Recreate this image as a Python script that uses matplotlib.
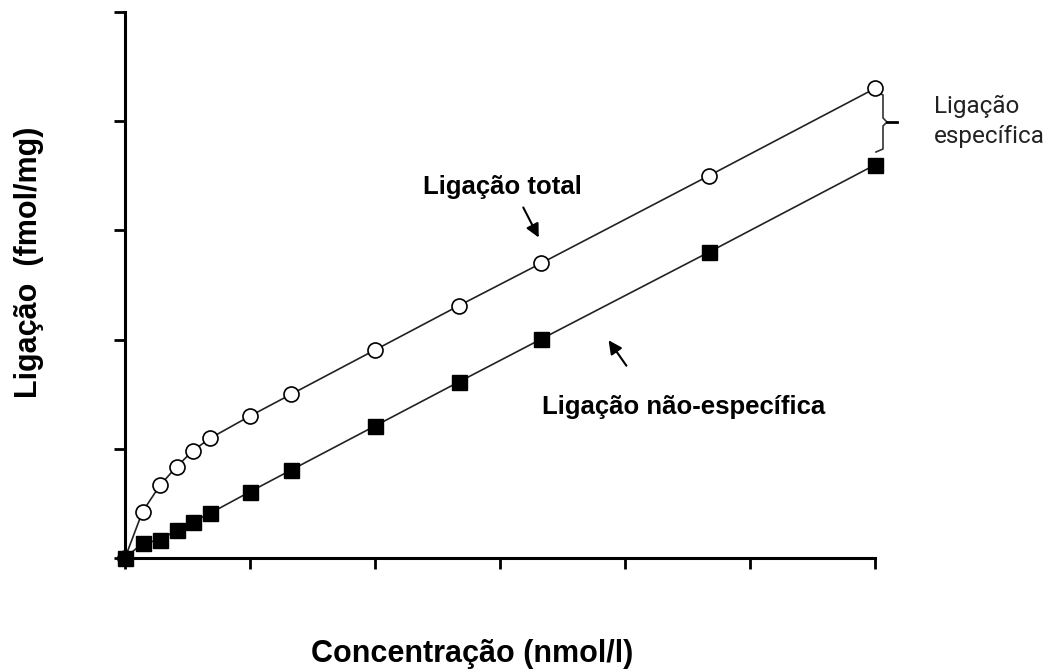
import matplotlib
matplotlib.use("Agg")
import matplotlib.pyplot as plt

conc = [0, 0.14, 0.28, 0.413, 0.544, 0.68, 1.0, 1.33, 2.0, 2.67, 3.33, 4.67, 6.0]
total = [0, 0.424, 0.666, 0.836, 0.983, 1.096, 1.30, 1.50, 1.905, 2.31, 2.70, 3.50, 4.30]
nonspecific = [0, 0.135, 0.165, 0.256, 0.332, 0.409, 0.607, 0.806, 1.209, 1.612, 2.005, 2.80, 3.60]

plt.rcParams['font.family'] = ['Liberation Sans', 'DejaVu Sans']

W, H = 1053, 672
fig = plt.figure(figsize=(W / 100, H / 100), dpi=100)
ax = fig.add_axes([125 / W, 1 - 558 / H, 750 / W, 546 / H])

ax.plot(conc, total, '-', color='#222222', lw=1.2, marker='o', ms=10.8,
        mfc='white', mec='black', mew=1.2, clip_on=False, zorder=3)
ax.plot(conc, nonspecific, '-', color='#222222', lw=1.2, marker='s', ms=10.8,
        mfc='black', mec='black', clip_on=False, zorder=4)

ax.set_xlim(0, 6)
ax.set_ylim(0, 5)
ax.set_xticks(range(0, 7))
ax.set_yticks(range(0, 6))
ax.set_xticklabels([])
ax.set_yticklabels([])
for s in ['top', 'right']:
    ax.spines[s].set_visible(False)
for s in ['left', 'bottom']:
    ax.spines[s].set_linewidth(2.2)
ax.tick_params(direction='out', length=8, width=2)

fig.text(472 / W, 1 - 662 / H, 'Concentração (nmol/l)', fontsize=22,
         fontweight='bold', ha='center', va='baseline')
fig.text(29 / W, 1 - 262 / H, 'Ligação  (fmol/mg)', fontsize=22,
         fontweight='bold', ha='center', va='center', rotation=90)

def px(x, y):
    return ((x - 125) / 125, (558 - y) / 109.2)

ax.text(*px(423, 194), 'Ligação total', fontsize=18.5, fontweight='bold',
        ha='left', va='baseline')
ax.text(*px(542, 414), 'Ligação não-específica', fontsize=18.5, fontweight='bold',
        ha='left', va='baseline')
ax.annotate('', xy=px(540, 240), xytext=px(522, 205),
            arrowprops=dict(arrowstyle='-|>', color='black', lw=1.5, mutation_scale=20),
            annotation_clip=False)
ax.annotate('', xy=px(607, 338), xytext=px(628, 368),
            arrowprops=dict(arrowstyle='-|>', color='black', lw=1.5, mutation_scale=20),
            annotation_clip=False)

brace = [px(877, 92), px(883, 95), px(883, 118), px(887, 122),
         px(883, 126), px(883, 149), px(876, 152)]
ax.plot([p[0] for p in brace], [p[1] for p in brace], color='#333333', lw=1.2,
        clip_on=False)
t0, t1 = px(887, 122), px(897, 122)
ax.plot([t0[0], t1[0]], [t0[1], t1[1]], color='black', lw=2, clip_on=False)
ax.text(*px(934, 113), 'Ligação', fontsize=17.5, family=['Roboto', 'DejaVu Sans'],
        ha='left', va='baseline', color='#222222')
ax.text(*px(934, 143), 'específica', fontsize=17.5, family=['Roboto', 'DejaVu Sans'],
        ha='left', va='baseline', color='#222222')

fig.savefig('out.png', dpi=100)
